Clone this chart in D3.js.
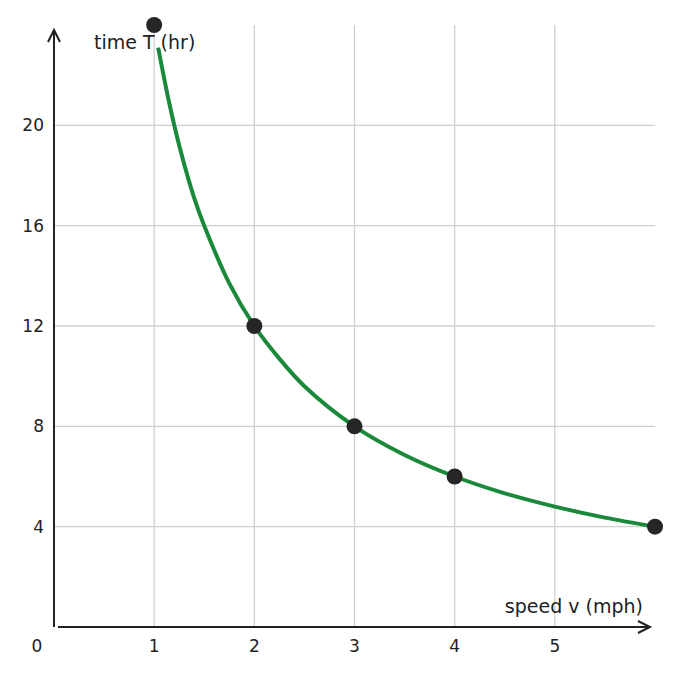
<!DOCTYPE html>
<html><head><meta charset="utf-8">
<script src="https://cdn.jsdelivr.net/npm/d3@7"></script>
<style>body{margin:0;background:#fff} text{font-family:"DejaVu Sans";}</style></head>
<body><svg id="c" width="681" height="675"></svg>
<script>
const xTicks=[1,2,3,4,5];
const yTicks=[4,8,12,16,20];
const pointV=[1,2,3,4,6];
const pointT=[24,12,8,6,4];
const curveV=[1.04,1.15,1.25,1.4,1.5,1.75,2,2.25,2.5,3,3.5,4,4.5,5,5.5,6];
const curveT=[23.1,20.9,19.2,17.1,16,13.7,12,10.7,9.6,8,6.86,6,5.33,4.8,4.36,4];
const svg=d3.select("#c");
const x=d3.scaleLinear([0,6],[54,655]);
const y=d3.scaleLinear([0,24],[627,25]);
const col="#222";
svg.append("g").selectAll("line").data(xTicks).join("line")
 .attr("x1",d=>x(d)).attr("x2",d=>x(d)).attr("y1",y(24)).attr("y2",y(0))
 .attr("stroke","#d0d0d0").attr("stroke-width",1.3);
svg.append("g").selectAll("line").data(yTicks).join("line")
 .attr("x1",x(0)).attr("x2",x(6)).attr("y1",d=>y(d)).attr("y2",d=>y(d))
 .attr("stroke","#d0d0d0").attr("stroke-width",1.3);
svg.append("line").attr("x1",x(0)).attr("x2",x(0)).attr("y1",y(0)).attr("y2",30).attr("stroke",col).attr("stroke-width",2);
svg.append("path").attr("d",`M${x(0)-6},42 L${x(0)},30 L${x(0)+6},42`).attr("fill","none").attr("stroke",col).attr("stroke-width",2);
svg.append("line").attr("x1",x(0)+4).attr("x2",650).attr("y1",y(0)).attr("y2",y(0)).attr("stroke",col).attr("stroke-width",2);
svg.append("path").attr("d",`M638,${y(0)-6} L650,${y(0)} L638,${y(0)+6}`).attr("fill","none").attr("stroke",col).attr("stroke-width",2);
svg.append("g").selectAll("text").data(xTicks).join("text").attr("x",d=>x(d)).attr("y",652)
 .attr("text-anchor","middle").attr("font-size",17).attr("fill",col).text(d=>d);
svg.append("g").selectAll("text").data(yTicks).join("text").attr("x",44).attr("y",d=>y(d)+6)
 .attr("text-anchor","end").attr("font-size",17).attr("fill",col).text(d=>d);
svg.append("text").attr("x",37).attr("y",652).attr("text-anchor","middle").attr("font-size",17).attr("fill",col).text("0");
svg.append("text").attr("x",94).attr("y",49).attr("font-size",19).attr("fill",col).text("time T (hr)");
svg.append("text").attr("x",643).attr("y",613).attr("text-anchor","end").attr("font-size",19).attr("fill",col).text("speed v (mph)");
const line=d3.line().x(d=>x(d[0])).y(d=>y(d[1])).curve(d3.curveCatmullRom);
svg.append("path").datum(curveV.map((v,i)=>[v,curveT[i]])).attr("d",line)
 .attr("fill","none").attr("stroke","#1a8a3a").attr("stroke-width",4);
svg.append("g").selectAll("circle").data(pointV.map((v,i)=>[v,pointT[i]])).join("circle")
 .attr("cx",d=>x(d[0])).attr("cy",d=>y(d[1])).attr("r",8).attr("fill","#262626");
</script></body></html>
